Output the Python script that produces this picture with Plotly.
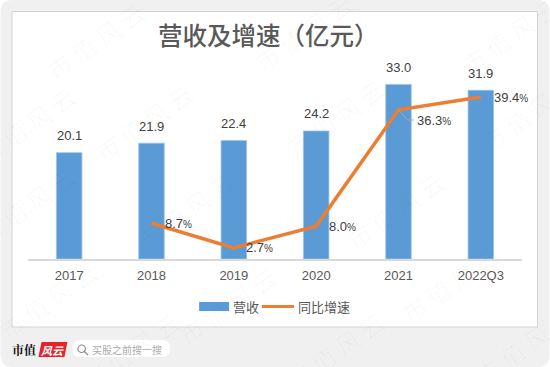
import plotly.graph_objects as go

W, H = 550, 367
categories = ["2017", "2018", "2019", "2020", "2021", "2022Q3"]
revenue = [20.1, 21.9, 22.4, 24.2, 33.0, 31.9]
growth = [None, 8.7, 2.7, 8.0, 36.3, 39.4]
title_text = "营收及增速（亿元）"
series_names = ["营收", "同比增速"]
label_offsets = [None, (27, 0), (26, 0), (26, 0), (35, 11), (30, 0)]
BLUE, ORANGE = "#5B9BD5", "#ED7D31"
FONT = "Liberation Sans, Noto Sans CJK SC"
CJK = "Noto Sans CJK SC"

L, R, T, B = 27.5, 27.5, 60, 108
pw, ph = W - L - R, H - T - B
Y1MAX, Y2MAX = ph / 5.29, ph / 4.11


def px(x):
    return (x - L) / pw


def py(y):
    return 1 - (y - T) / ph


def rect(x0, y0, x1, y1, fill, line=None, lw=0, layer="below"):
    return dict(type="rect", xref="paper", yref="paper", x0=px(x0), x1=px(x1), y0=py(y0), y1=py(y1),
                fillcolor=fill, line=dict(color=line or fill, width=lw), layer=layer)


def rounded(x0, y0, x1, y1, r, fill, layer="below"):
    p = lambda x, y: f"{px(x)},{py(y)}"
    path = (f"M{p(x0 + r, y0)} L{p(x1 - r, y0)} Q{p(x1, y0)} {p(x1, y0 + r)} L{p(x1, y1 - r)} "
            f"Q{p(x1, y1)} {p(x1 - r, y1)} L{p(x0 + r, y1)} Q{p(x0, y1)} {p(x0, y1 - r)} "
            f"L{p(x0, y0 + r)} Q{p(x0, y0)} {p(x0 + r, y0)} Z")
    return dict(type="path", xref="paper", yref="paper", path=path, fillcolor=fill,
                line=dict(width=0), layer=layer)


def text(x, y, s, size, color, family=CJK, **kw):
    return dict(xref="paper", yref="paper", x=px(x), y=py(y), text=s, showarrow=False,
                font=dict(size=size, color=color, family=family), xanchor=kw.pop("xanchor", "center"),
                yanchor="middle", **kw)


fig = go.Figure()
fig.add_bar(x=categories, y=revenue, name=series_names[0], marker=dict(color=BLUE, line=dict(width=0.8, color="#9cc3e8")),
            width=0.31, yaxis="y")
fig.add_scatter(x=categories, y=growth, name=series_names[1], mode="lines",
                line=dict(color=ORANGE, width=3.5), yaxis="y2", cliponaxis=False)

shapes = [
    rounded(0, 0, 550, 367, 12, "#f0f0f0"),
    rect(11.5, 11.5, 538, 327, "#ffffff", "#d4d4d4", 1),
    rect(199, 302, 229, 311, BLUE, layer="above"),
    dict(type="line", xref="paper", yref="paper", x0=px(262), x1=px(294), y0=py(306.5), y1=py(306.5),
         line=dict(color=ORANGE, width=3), layer="above"),
    dict(type="path", xref="paper", yref="paper",
         path=f"M{px(399)},{py(110)} L{px(408)},{py(120)} L{px(414)},{py(120)}",
         line=dict(color="#a6a6a6", width=1), layer="above"),
    dict(type="path", xref="paper", yref="paper",
         path=f"M{px(41)},{py(342)} L{px(67)},{py(342)} L{px(64)},{py(357)} L{px(38)},{py(357)} Z",
         fillcolor="#e8222a", line=dict(width=0), layer="above"),
    rounded(72, 340, 170, 357, 8.5, "#ffffff", layer="above"),
    dict(type="circle", xref="paper", yref="paper", x0=px(77.5), x1=px(85), y0=py(345), y1=py(352.5),
         line=dict(color="#8c8c8c", width=1.2), layer="above"),
    dict(type="line", xref="paper", yref="paper", x0=px(84), x1=px(87.5), y0=py(351.5), y1=py(355),
         line=dict(color="#8c8c8c", width=1.2), layer="above"),
]

ann = [
    text(268, 34.5, title_text, 24.5, "#595959", family="Noto Sans CJK SC Medium, Noto Sans CJK SC"),
    text(246, 306.5, series_names[0], 13, "#595959"),
    text(324, 306.5, series_names[1], 13, "#595959"),
    text(23, 349, "<b>市值</b>", 12, "#111111", family="Noto Serif CJK SC, Liberation Serif, Noto Sans CJK SC, serif"),
    text(52, 349.5, "<b><i>风云</i></b>", 11, "#ffffff"),
    text(126.5, 349, "买股之前搜一搜", 10, "#ababab"),
]

for i, v in enumerate(revenue):
    ann.append(dict(x=i, y=v, xref="x", yref="y", text=f"{v:.1f}", showarrow=False, yshift=17,
                    font=dict(size=13, color="#404040", family=FONT), xanchor="center", yanchor="middle"))
for i, (g, off) in enumerate(zip(growth, label_offsets)):
    if g is None:
        continue
    ann.append(dict(x=i, y=g, xref="x", yref="y2", text=f"{g:.1f}<span style='font-size:10px'>%</span>",
                    showarrow=False, xshift=off[0], yshift=-off[1],
                    font=dict(size=13, color="#404040", family=FONT), xanchor="center", yanchor="middle"))

watermarks = [(95, 40), (303, 32), (510, 36), (143, 122), (335, 117), (530, 112), (25, 125), (25, 205),
              (185, 210), (395, 210), (47, 300), (227, 305), (450, 284), (130, 350), (335, 350), (525, 345)]
for x, y in watermarks:
    ann.append(text(x, y, "市 值 风 云", 24, "rgba(0,0,0,0.028)", textangle=-35))

fig.update_layout(
    width=W, height=H, margin=dict(l=L, r=R, t=T, b=B, autoexpand=False),
    paper_bgcolor="#ffffff", plot_bgcolor="rgba(0,0,0,0)", showlegend=False,
    xaxis=dict(type="category", range=[-0.5, 5.5], showgrid=False, showline=True, linecolor="#d9d9d9", linewidth=1.5,
               ticks="", tickfont=dict(size=13, color="#595959", family=FONT), ticklabelstandoff=4),
    yaxis=dict(range=[0, Y1MAX], visible=False, showgrid=False),
    yaxis2=dict(range=[0, Y2MAX], overlaying="y", visible=False, showgrid=False),
    shapes=shapes, annotations=ann,
)
fig.write_html("out.html", config=dict(displayModeBar=False),
               post_script="document.body.style.margin='0';document.documentElement.style.overflow='hidden';")
